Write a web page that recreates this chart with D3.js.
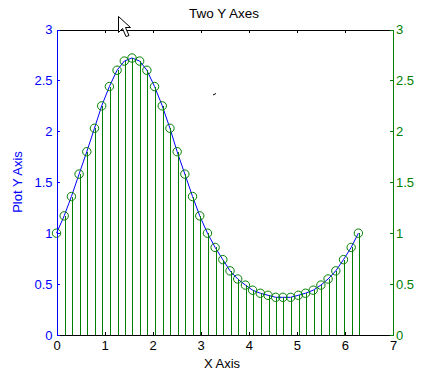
<!DOCTYPE html>
<html>
<head>
<meta charset="utf-8">
<script src="https://d3js.org/d3.v7.min.js"></script>
<style>
  html, body { margin: 0; padding: 0; background: #fff; }
  svg { display: block; }
  text { font-family: "Liberation Sans", Arial, sans-serif; }
</style>
</head>
<body>
<div id="my_dataviz"></div>
<script>
// values
var xValues = [0, 0.16, 0.31, 0.47, 0.63, 0.79, 0.94, 1.10, 1.26, 1.41, 1.57, 1.73, 1.88, 2.04,
  2.20, 2.36, 2.51, 2.67, 2.83, 2.98, 3.14, 3.30, 3.46, 3.61, 3.77, 3.93, 4.08, 4.24,
  4.40, 4.56, 4.71, 4.87, 5.03, 5.18, 5.34, 5.50, 5.65, 5.81, 5.97, 6.13, 6.28];
var lineValues = [1.00, 1.17, 1.36, 1.58, 1.80, 2.03, 2.25, 2.44, 2.60, 2.69, 2.72, 2.69, 2.60, 2.44,
  2.25, 2.03, 1.80, 1.58, 1.36, 1.17, 1.00, 0.86, 0.74, 0.63, 0.55, 0.49, 0.44, 0.41,
  0.39, 0.37, 0.37, 0.37, 0.39, 0.41, 0.44, 0.49, 0.55, 0.63, 0.74, 0.86, 1.00];
var stemValues = lineValues.slice();
var xTicks = [0, 1, 2, 3, 4, 5, 6, 7];
var yTicks = [0, 0.5, 1, 1.5, 2, 2.5, 3];

var blue = "#0000ff", green = "#008000";

// set the dimensions and margins of the graph
var margin = {top: 29.5, right: 41, bottom: 54, left: 56.5},
    width = 434 - margin.left - margin.right,
    height = 389 - margin.top - margin.bottom;

var root = d3.select("#my_dataviz")
  .append("svg")
    .attr("width", 434)
    .attr("height", 389);

var svg = root.append("g")
    .attr("transform", "translate(" + margin.left + "," + margin.top + ")");

var x = d3.scaleLinear().domain([0, 7]).range([0, width]);
var yLeft = d3.scaleLinear().domain([0, 3]).range([height, 0]);
var yRight = d3.scaleLinear().domain([0, 3]).range([height, 0]);

// the line first, the stems and circles go over it
svg.append("path")
  .datum(xValues)
  .attr("fill", "none")
  .attr("stroke", blue)
  .attr("stroke-width", 1)
  .attr("d", d3.line()
    .x(function(d) { return x(d) })
    .y(function(d, i) { return yLeft(lineValues[i]) })
  );

svg.append("g")
  .selectAll("line")
  .data(xValues)
  .join("line")
    .attr("x1", function(d) { return Math.round(x(d)) + 0.5 })
    .attr("x2", function(d) { return Math.round(x(d)) + 0.5 })
    .attr("y1", yRight(0))
    .attr("y2", function(d, i) { return yRight(stemValues[i]) })
    .attr("stroke", green)
    .attr("stroke-width", 1)
    .attr("shape-rendering", "crispEdges");

svg.append("g")
  .selectAll("circle")
  .data(xValues)
  .join("circle")
    .attr("cx", function(d) { return x(d) })
    .attr("cy", function(d, i) { return yRight(stemValues[i]) })
    .attr("r", 4.2)
    .attr("fill", "none")
    .attr("stroke", green)
    .attr("stroke-width", 1);

function styleAxis(g, color) {
  g.selectAll("path.domain").attr("stroke", color).attr("shape-rendering", "crispEdges");
  g.selectAll(".tick line").attr("stroke", color).attr("shape-rendering", "crispEdges");
  g.selectAll("text").attr("fill", color).attr("font-size", 13).attr("font-family", null);
}

// top axis: only the ticks, no labels
svg.append("g")
  .call(d3.axisTop(x).tickValues(xTicks).tickSize(-3).tickFormat(""))
  .call(styleAxis, "#000");

// X axis
svg.append("g")
  .attr("transform", "translate(0," + height + ")")
  .call(d3.axisBottom(x).tickValues(xTicks).tickSizeInner(-3).tickSizeOuter(0).tickPadding(6).tickFormat(d3.format("d")))
  .call(styleAxis, "#000");

// left Y axis
svg.append("g")
  .call(d3.axisLeft(yLeft).tickValues(yTicks).tickSizeInner(-3).tickSizeOuter(0).tickPadding(4).tickFormat(d3.format("")))
  .call(styleAxis, blue);

// right Y axis
svg.append("g")
  .attr("transform", "translate(" + width + ",0)")
  .call(d3.axisRight(yRight).tickValues(yTicks).tickSizeInner(-3).tickSizeOuter(0).tickPadding(3).tickFormat(d3.format("")))
  .call(styleAxis, green);

root.append("text")
  .attr("x", 224)
  .attr("y", 18)
  .attr("text-anchor", "middle")
  .attr("font-size", 13.5)
  .attr("fill", "#000")
  .text("Two Y Axes");

root.append("text")
  .attr("x", 222)
  .attr("y", 368)
  .attr("text-anchor", "middle")
  .attr("font-size", 13)
  .attr("fill", "#000")
  .text("X Axis");

root.append("text")
  .attr("transform", "translate(22,182) rotate(-90)")
  .attr("text-anchor", "middle")
  .attr("font-size", 13)
  .attr("fill", blue)
  .text("Plot Y Axis");

// the mouse pointer and the stray speck that got caught in the screenshot
root.append("path")
  .attr("d", "M118.5,16.5 L118.5,32.5 L122.5,28.5 L126,36.5 L129,35.5 L125.5,27.5 L130.5,27.5 Z")
  .attr("fill", "#fff")
  .attr("stroke", "#000")
  .attr("stroke-width", 1);

root.append("path")
  .attr("d", "M213,95 L216,93.5")
  .attr("stroke", "#000")
  .attr("stroke-width", 1);
</script>
</body>
</html>
